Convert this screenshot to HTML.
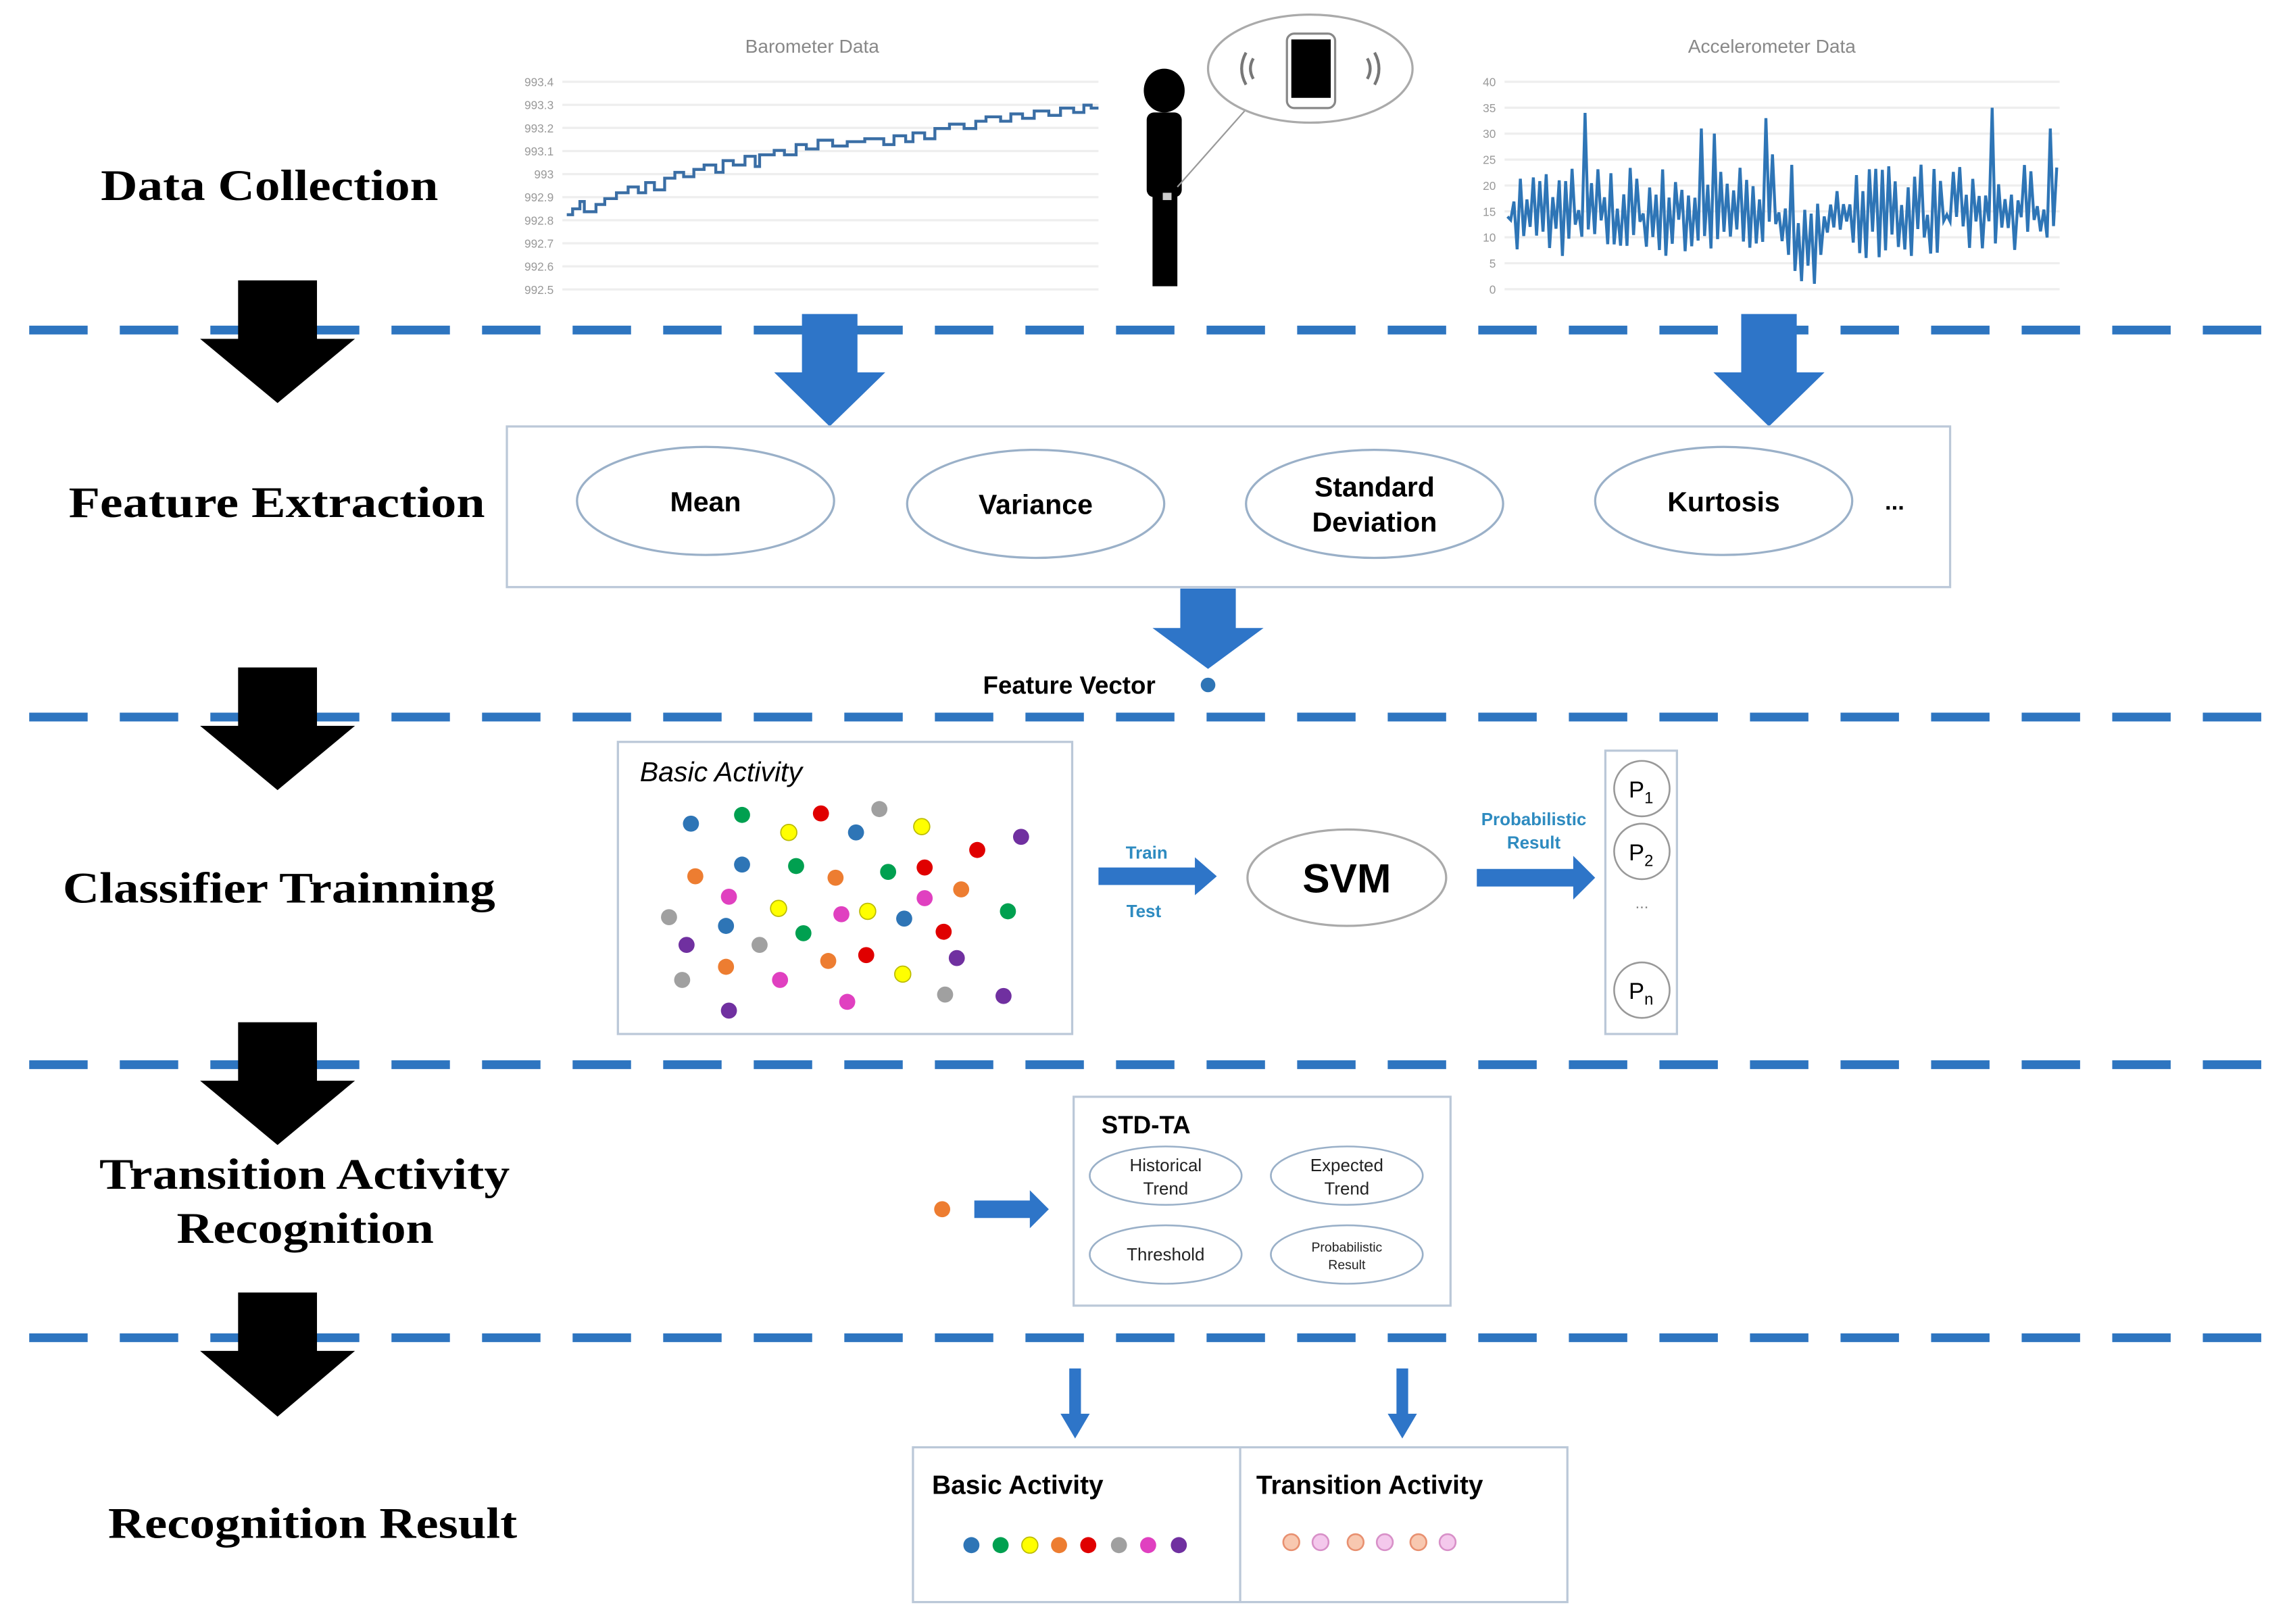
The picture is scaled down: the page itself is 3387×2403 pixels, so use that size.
<!DOCTYPE html>
<html><head><meta charset="utf-8"><style>
html,body{margin:0;padding:0;background:#fff;}
svg{display:block;}
.lab{font-family:"Liberation Serif",serif;font-weight:bold;font-size:30px;fill:#000;}
.sb{font-family:"Liberation Sans",sans-serif;font-weight:bold;fill:#000;}
.ax{font-family:"Liberation Sans",sans-serif;font-size:8px;fill:#999;}
</style></head><body>
<svg id="s" width="3387" height="2403" viewBox="0 0 1567 1112" preserveAspectRatio="none" xmlns="http://www.w3.org/2000/svg">
<rect width="1567" height="1112" fill="#fff"/>
<g stroke="#2e75c0" stroke-width="6" stroke-dasharray="40,22">
<line x1="20" y1="226" x2="1550" y2="226"/>
<line x1="20" y1="491" x2="1550" y2="491"/>
<line x1="20" y1="729" x2="1550" y2="729"/>
<line x1="20" y1="916" x2="1550" y2="916"/>
</g>
<g fill="#000">
<path d="M163 192H217V232H243L190 276L137 232H163Z"/>
<path d="M163 457H217V497H243L190 541L137 497H163Z"/>
<path d="M163 700H217V740H243L190 784L137 740H163Z"/>
<path d="M163 885H217V925H243L190 970L137 925H163Z"/>
</g>
<text class="lab" x="69" y="137" textLength="231" lengthAdjust="spacingAndGlyphs">Data Collection</text>
<text class="lab" x="47" y="354" textLength="285" lengthAdjust="spacingAndGlyphs">Feature Extraction</text>
<text class="lab" x="43" y="618" textLength="296" lengthAdjust="spacingAndGlyphs">Classifier Trainning</text>
<text class="lab" x="68" y="814" textLength="281" lengthAdjust="spacingAndGlyphs">Transition Activity</text>
<text class="lab" x="121" y="851" textLength="176" lengthAdjust="spacingAndGlyphs">Recognition</text>
<text class="lab" x="74" y="1053" textLength="280" lengthAdjust="spacingAndGlyphs">Recognition Result</text>
<g fill="#2e75c8">
<path d="M549 215H587V255H606L568 292L530 255H549Z"/>
<path d="M1192 215H1230V255H1249L1211 292L1173 255H1192Z"/>
<path d="M808 403H846V430H865L827 458L789 430H808Z"/>
</g>
<text x="556" y="36" text-anchor="middle" font-family="Liberation Sans,sans-serif" font-size="13" fill="#888">Barometer Data</text>
<g stroke="#eee" stroke-width="1.5" id="bg"></g>
<g id="bl"></g>
<polyline fill="none" stroke="#3a6ea5" stroke-width="2" points="388,147 392,147 392,143 397,143 397,138 400,138 400,145 408,145 408,140 414,140 414,136 422,136 422,132 430,132 430,128 437,128 437,132 442,132 442,125 448,125 448,130 455,130 455,122 462,122 462,118 468,118 468,121 475,121 475,116 482,116 482,113 490,113 490,118 495,118 495,110 502,110 502,113 510,113 510,107 517,107 517,114 520,114 520,106 530,106 530,103 537,103 537,106 545,106 545,99 552,99 552,102 560,102 560,96 570,96 570,100 580,100 580,97 592,97 592,95 605,95 605,99 612,99 612,93 620,93 620,97 625,97 625,91 633,91 633,95 640,95 640,88 650,88 650,85 660,85 660,88 668,88 668,83 675,83 675,80 685,80 685,83 692,83 692,78 700,78 700,81 708,81 708,76 718,76 718,79 726,79 726,74 735,74 735,77 742,77 742,72 747,72 747,74 752,74"/>
<text x="1213" y="36" text-anchor="middle" font-family="Liberation Sans,sans-serif" font-size="13" fill="#888">Accelerometer Data</text>
<g stroke="#eee" stroke-width="1.5" id="ag"></g>
<g id="al"></g>
<path id="acc" fill="none" stroke="#2e75b6" stroke-width="2"/>
<ellipse cx="797" cy="62" rx="14" ry="15" fill="#000"/>
<rect x="785" y="77" width="24" height="58" rx="5" fill="#000"/>
<rect x="789" y="133" width="17" height="63" fill="#000"/>
<rect x="796" y="132" width="6" height="5" fill="#ccc"/>
<line x1="806" y1="128" x2="852" y2="76" stroke="#999" stroke-width="1"/>
<ellipse cx="897" cy="47" rx="70" ry="37" fill="#fff" stroke="#aaa" stroke-width="1.5"/>
<rect x="881" y="23" width="33" height="51" rx="5" fill="#fff" stroke="#888" stroke-width="1.5"/>
<rect x="884" y="27" width="27" height="40" fill="#000"/>
<g fill="none" stroke="#777" stroke-width="2">
<path d="M858 40 Q854 47 858 54"/><path d="M853 36 Q847 47 853 58"/>
<path d="M936 40 Q940 47 936 54"/><path d="M941 36 Q947 47 941 58"/>
</g>
<rect x="347" y="292" width="988" height="110" fill="#fff" stroke="#bbc8d8" stroke-width="1.5"/>
<g fill="#fff" stroke="#9ab0c8" stroke-width="1.5">
<ellipse cx="483" cy="343" rx="88" ry="37"/>
<ellipse cx="709" cy="345" rx="88" ry="37"/>
<ellipse cx="941" cy="345" rx="88" ry="37"/>
<ellipse cx="1180" cy="343" rx="88" ry="37"/>
</g>
<text class="sb" x="483" y="350" font-size="19" text-anchor="middle">Mean</text>
<text class="sb" x="709" y="352" font-size="19" text-anchor="middle">Variance</text>
<text class="sb" x="941" y="340" font-size="19" text-anchor="middle">Standard</text>
<text class="sb" x="941" y="364" font-size="19" text-anchor="middle">Deviation</text>
<text class="sb" x="1180" y="350" font-size="19" text-anchor="middle">Kurtosis</text>
<text class="sb" x="1297" y="349" font-size="16" text-anchor="middle">...</text>
<text class="sb" x="732" y="475" font-size="17" text-anchor="middle">Feature Vector</text>
<circle cx="827" cy="469" r="5" fill="#2e75b6"/>
<rect x="423" y="508" width="311" height="200" fill="#fff" stroke="#bbc8d8" stroke-width="1.5"/>
<text x="438" y="535" font-family="Liberation Sans,sans-serif" font-style="italic" font-size="19">Basic Activity</text>
<g id="dots"></g>
<text x="785" y="588" text-anchor="middle" class="sb" font-size="12" style="fill:#2e8bc0">Train</text>
<text x="783" y="628" text-anchor="middle" class="sb" font-size="12" style="fill:#2e8bc0">Test</text>
<path d="M752 594H818V587L833 600L818 613V606H752Z" fill="#2e75c8"/>
<ellipse cx="922" cy="601" rx="68" ry="33" fill="#fff" stroke="#aaa" stroke-width="1.5"/>
<text class="sb" x="922" y="611" font-size="28" text-anchor="middle">SVM</text>
<text class="sb" x="1050" y="565" font-size="12" text-anchor="middle" style="fill:#2e8bc0">Probabilistic</text>
<text class="sb" x="1050" y="581" font-size="12" text-anchor="middle" style="fill:#2e8bc0">Result</text>
<path d="M1011 595H1077V586L1092 601L1077 616V607H1011Z" fill="#2e75c8"/>
<rect x="1099" y="514" width="49" height="194" fill="#fff" stroke="#bbc8d8" stroke-width="1.5"/>
<g fill="#fff" stroke="#999" stroke-width="1.2">
<circle cx="1124" cy="540" r="19"/><circle cx="1124" cy="583" r="19"/><circle cx="1124" cy="678" r="19"/>
</g>
<g font-family="Liberation Sans,sans-serif" font-size="16">
<text x="1115" y="546">P<tspan font-size="11" dy="4">1</tspan></text>
<text x="1115" y="589">P<tspan font-size="11" dy="4">2</tspan></text>
<text x="1115" y="684">P<tspan font-size="11" dy="4">n</tspan></text>
<text x="1124" y="622" text-anchor="middle" font-size="11" fill="#888">...</text>
</g>
<circle cx="645" cy="828" r="5.5" fill="#ed7d31"/>
<path d="M667 822H705V815L718 828L705 841V834H667Z" fill="#2e75c8"/>
<rect x="735" y="751" width="258" height="143" fill="#fff" stroke="#bbc8d8" stroke-width="1.5"/>
<text class="sb" x="754" y="776" font-size="17">STD-TA</text>
<g fill="#fff" stroke="#9ab0c8" stroke-width="1.2">
<ellipse cx="798" cy="805" rx="52" ry="20"/><ellipse cx="922" cy="805" rx="52" ry="20"/>
<ellipse cx="798" cy="859" rx="52" ry="20"/><ellipse cx="922" cy="859" rx="52" ry="20"/>
</g>
<g font-family="Liberation Sans,sans-serif" font-size="12" text-anchor="middle" fill="#222">
<text x="798" y="802">Historical</text><text x="798" y="818">Trend</text>
<text x="922" y="802">Expected</text><text x="922" y="818">Trend</text>
<text x="798" y="863">Threshold</text>
<text x="922" y="857" font-size="9">Probabilistic</text><text x="922" y="869" font-size="9">Result</text>
</g>
<path d="M732 937H740V968H746L736 985L726 968H732Z" fill="#2e75c8"/>
<path d="M956 937H964V968H970L960 985L950 968H956Z" fill="#2e75c8"/>
<rect x="625" y="991" width="448" height="106" fill="#fff" stroke="#bbc8d8" stroke-width="1.5"/>
<line x1="849" y1="991" x2="849" y2="1097" stroke="#bbc8d8" stroke-width="1.5"/>
<text class="sb" x="638" y="1023" font-size="18">Basic Activity</text>
<text class="sb" x="860" y="1023" font-size="18">Transition Activity</text>
<g>
<circle cx="665" cy="1058" r="5.5" fill="#2e75b6"/><circle cx="685" cy="1058" r="5.5" fill="#00a050"/>
<circle cx="705" cy="1058" r="5.5" fill="#ffff00" stroke="#bb0" stroke-width="0.8"/><circle cx="725" cy="1058" r="5.5" fill="#ed7d31"/>
<circle cx="745" cy="1058" r="5.5" fill="#e00000"/><circle cx="766" cy="1058" r="5.5" fill="#a0a0a0"/>
<circle cx="786" cy="1058" r="5.5" fill="#e040c0"/><circle cx="807" cy="1058" r="5.5" fill="#7030a0"/>
</g>
<g stroke-width="1.2">
<circle cx="884" cy="1056" r="5.5" fill="#f8c8b0" stroke="#e89070"/><circle cx="904" cy="1056" r="5.5" fill="#f4c8ec" stroke="#d890c8"/>
<circle cx="928" cy="1056" r="5.5" fill="#f8c8b0" stroke="#e89070"/><circle cx="948" cy="1056" r="5.5" fill="#f4c8ec" stroke="#d890c8"/>
<circle cx="971" cy="1056" r="5.5" fill="#f8c8b0" stroke="#e89070"/><circle cx="991" cy="1056" r="5.5" fill="#f4c8ec" stroke="#d890c8"/>
</g>
</svg>
<script>
var NS="http://www.w3.org/2000/svg";
function el(p,t,a,txt){var e=document.createElementNS(NS,t);for(var k in a)e.setAttribute(k,a[k]);if(txt!=null)e.textContent=txt;document.getElementById(p).appendChild(e);}
var bl=["993.4","993.3","993.2","993.1","993","992.9","992.8","992.7","992.6","992.5"];
for(var i=0;i<10;i++){var y=56+i*15.8;el("bg","line",{x1:385,y1:y,x2:752,y2:y});el("bl","text",{x:379,y:y+3,"text-anchor":"end","class":"ax"},bl[i]);}
for(var i=0;i<9;i++){var y=56+i*17.75;el("ag","line",{x1:1030,y1:y,x2:1410,y2:y});el("al","text",{x:1024,y:y+3,"text-anchor":"end","class":"ax"},String(40-i*5));}
var seed=7;function r(){seed=(seed*16807)%2147483647;return seed/2147483647;}
var d="",n=170;var spikes={24:34,60:31,64:30,80:33,82:26,150:35,168:31,108:22,128:24};
for(var i=0;i<=n;i++){var x=1032+i*(1408-1032)/n;var v=(i%2?6+r()*8:14+r()*10);if(spikes[i])v=spikes[i];if(i>88&&i<96)v=(i%2?1+r()*4:10+r()*6);var y=198-v*3.55;d+=(i?"L":"M")+x.toFixed(1)+" "+y.toFixed(1);}
document.getElementById("acc").setAttribute("d",d);
var C={b:"#2e75b6",g:"#00a050",y:"#ffff00",r:"#e00000",a:"#a0a0a0",p:"#7030a0",o:"#ed7d31",m:"#e040c0"};
var D=[[473,564,"b"],[508,558,"g"],[540,570,"y"],[562,557,"r"],[602,554,"a"],[586,570,"b"],[631,566,"y"],[699,573,"p"],[669,582,"r"],[476,600,"o"],[508,592,"b"],[545,593,"g"],[572,601,"o"],[608,597,"g"],[633,594,"r"],[658,609,"o"],[499,614,"m"],[533,622,"y"],[576,626,"m"],[594,624,"y"],[619,629,"b"],[633,615,"m"],[690,624,"g"],[458,628,"a"],[497,634,"b"],[550,639,"g"],[646,638,"r"],[470,647,"p"],[520,647,"a"],[593,654,"r"],[655,656,"p"],[497,662,"o"],[567,658,"o"],[618,667,"y"],[467,671,"a"],[534,671,"m"],[647,681,"a"],[687,682,"p"],[580,686,"m"],[499,692,"p"]];
D.forEach(function(q){var a={cx:q[0],cy:q[1],r:5.5,fill:C[q[2]]};if(q[2]=="y"){a.stroke="#bb0";a["stroke-width"]=0.8;}el("dots","circle",a);});
</script>
</body></html>
